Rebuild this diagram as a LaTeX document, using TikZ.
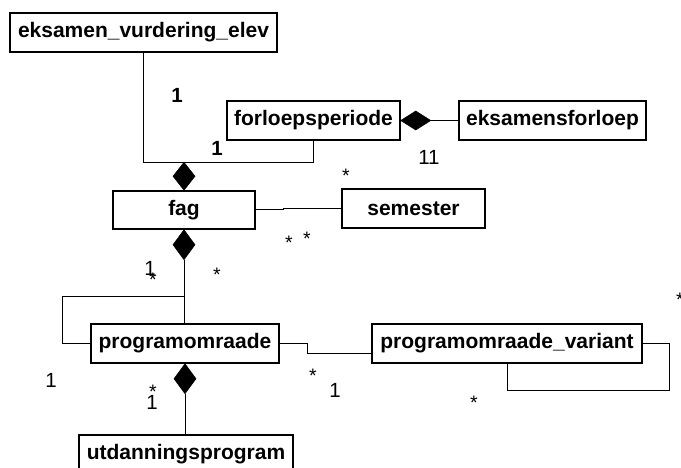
\documentclass[tikz,border=0pt]{standalone}
\usepackage{fontspec}
\setmainfont{Liberation Sans}
\usetikzlibrary{calc}
\tikzset{
  cls/.style={draw=black, line width=1.5pt, fill=white, inner sep=0pt, minimum height=39pt,
    font=\fontsize{21}{24}\selectfont\bfseries},
  conn/.style={draw=black, line width=1pt},
  dia/.style={fill=black, draw=black, line width=0.5pt},
  lbl/.style={inner sep=0pt, font=\fontsize{20.5}{23}\selectfont},
  slbl/.style={inner sep=0pt, font=\fontsize{19.5}{22}\selectfont},
  blbl/.style={inner sep=0pt, font=\fontsize{20.5}{23}\selectfont\bfseries}
}
\begin{document}
\begin{tikzpicture}[x=1pt,y=-1pt]
\useasboundingbox (0,0) rectangle (681,468);
\clip (0,0) rectangle (681,468);
% classes
\node[cls, minimum width=267pt] (evu) at (143.5,32.5) {eksamen\_vurdering\_elev};
\node[cls, minimum width=173pt] (forl) at (313.5,120.5) {forloepsperiode};
\node[cls, minimum width=187pt] (eksf) at (552.5,120.5) {eksamensforloep};
\node[cls, minimum width=142pt, minimum height=38pt] (fag) at (184,210) {fag};
\node[cls, minimum width=143pt] (sem) at (413.5,208.5) {semester};
\node[cls, minimum width=188pt] (prog) at (185,343.5) {programomraade};
\node[cls, minimum width=270pt] (var) at (507,343.5) {programomraade\_variant};
\node[cls, minimum width=214pt] (utd) at (186,454.5) {utdanningsprogram};
% diamond tips
\coordinate (d1t) at ($(fag.north)+(0,-28)$);
\coordinate (d2e) at ($(forl.east)+(30,0)$);
\coordinate (d3b) at ($(fag.south)+(0,30)$);
\coordinate (d4b) at ($(prog.south)+(0,30)$);
% connectors
\draw[conn] (evu.south) |- (d1t);
\draw[conn] (forl.south) |- (d1t);
\draw[conn] (d2e) -- (eksf.west);
\draw[conn] (fag.east) -- ++(28,0) |- (sem.west);
\draw[conn] (d3b) -- (d3b |- prog.north);
\coordinate (jn) at ($(d3b)+(0,37)$);
\draw[conn] (jn) -| ($(prog.west)+(-28,0)$) -- (prog.west);
\draw[conn] (d4b) -- (d4b |- utd.north);
\draw[conn] (prog.east) -- ++(28,0) |- ($(var.west)+(0,9.5)$);
\draw[conn] (var.east) -| ($(var.east)+(27,46.5)$) -| (var.south);
% diamonds
\path[dia] (d1t) -- ++(11,14) -- (fag.north) -- ++(-11,-14) -- cycle;
\path[dia] (forl.east) -- ++(15,-9.5) -- (d2e) -- ++(-15,9.5) -- cycle;
\path[dia] (fag.south) -- ++(11,15) -- (d3b) -- ++(-11,-15) -- cycle;
\path[dia] (prog.south) -- ++(11,15) -- (d4b) -- ++(-11,-15) -- cycle;
% multiplicities
\node[blbl] (m1) at (177,95) {1};
\node[blbl] (m2) at (217,148) {1};
\node[lbl] (m3) at (429,157) {11};
\node[slbl] (m4) at (346,176) {*};
\node[slbl] (m5) at (289,243) {*};
\node[slbl] (m6) at (307,239) {*};
\node[lbl] (m7) at (150,268) {1};
\node[slbl] (m8) at (153,280) {*};
\node[slbl] (m9) at (217,275) {*};
\node[lbl] (m10) at (51,380) {1};
\node[slbl] (m11) at (153,392) {*};
\node[lbl] (m12) at (152,402) {1};
\node[slbl] (m13) at (313,376) {*};
\node[lbl] (m14) at (335,390) {1};
\node[slbl] (m15) at (474,403) {*};
\node[slbl] (m16) at (680,300) {*};
\end{tikzpicture}
\end{document}
